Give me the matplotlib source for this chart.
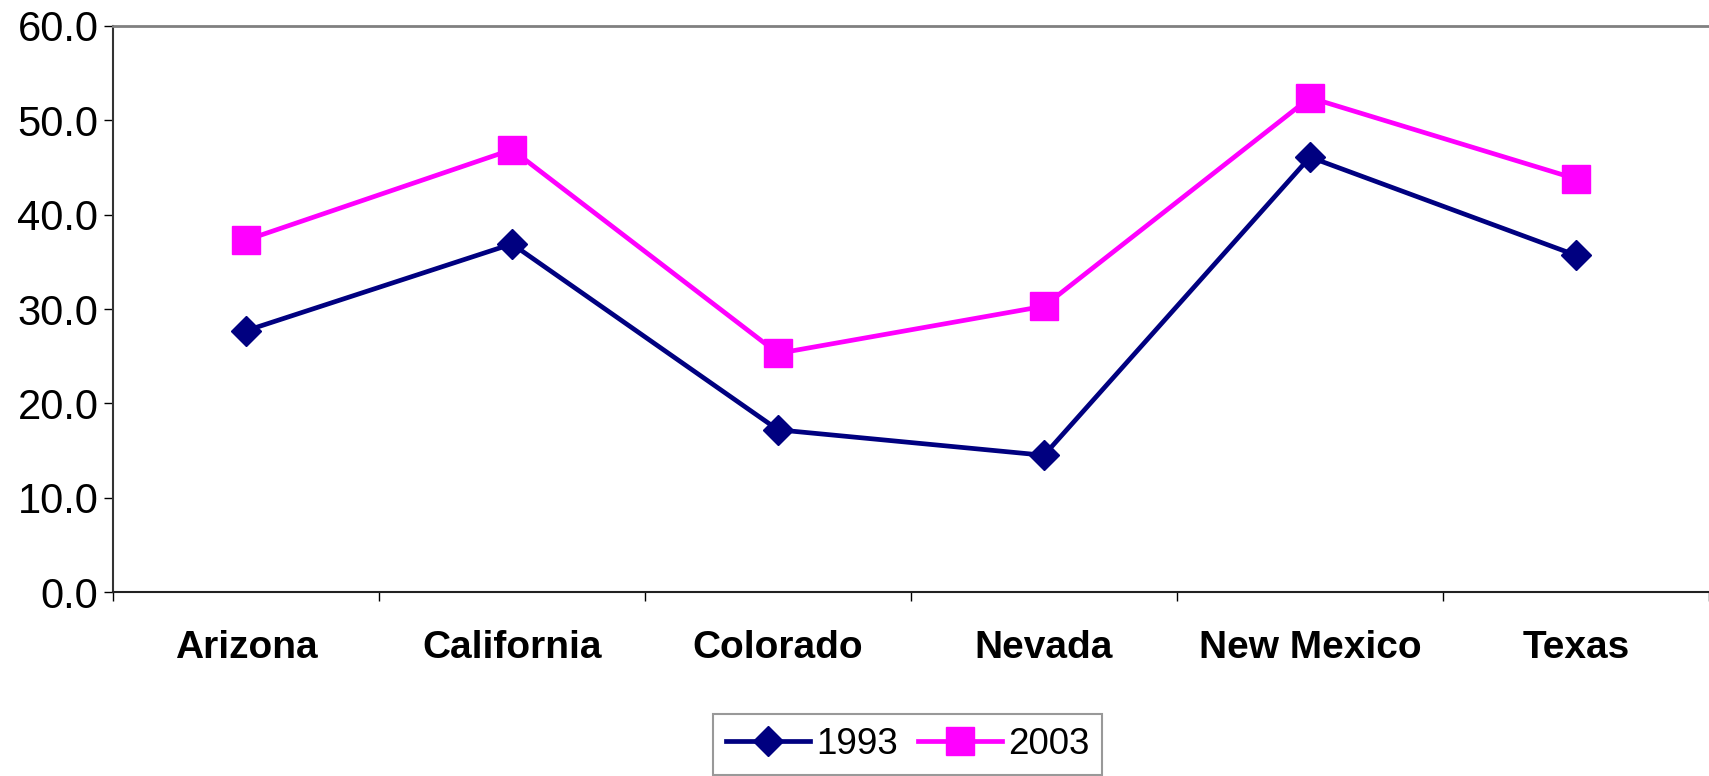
import numpy as np
import matplotlib.pyplot as plt
from matplotlib.ticker import FormatStrFormatter

states = ['Arizona', 'California', 'Colorado', 'Nevada', 'New Mexico', 'Texas']
y1993 = [27.7, 36.9, 17.2, 14.5, 46.1, 35.7]
y2003 = [37.3, 46.9, 25.3, 30.3, 52.4, 43.8]

plt.rcParams['font.family'] = ['Liberation Sans', 'DejaVu Sans']

fig = plt.figure(figsize=(17.09, 7.76), dpi=100)
ax = fig.add_axes([0.0661, 0.237, 0.9339, 0.7295])

x = np.arange(len(states)) + 0.5
ax.plot(x, y1993, color='#000080', lw=3.4, marker='D', ms=15.5,
        mec='#000080', mew=1, label='1993')
ax.plot(x, y2003, color='#FF00FF', lw=3.4, marker='s', ms=19.5,
        mec='#FF00FF', mew=1, label='2003')

ax.set_xlim(0, len(states))
ax.set_ylim(0, 60)
ax.set_yticks(np.arange(0, 61, 10))
ax.yaxis.set_major_formatter(FormatStrFormatter('%.1f'))
ax.tick_params(axis='y', labelsize=30, direction='out', length=6.5, width=1, pad=4)

# category boundaries get the tick marks, labels sit in between
ax.set_xticks(np.arange(0, len(states) + 1))
ax.set_xticklabels([])
ax.set_xticks(x, minor=True)
ax.set_xticklabels(states, minor=True, fontsize=28, fontweight='bold')
ax.tick_params(axis='x', which='major', direction='out', length=6.5, width=1)
ax.tick_params(axis='x', which='minor', length=0, pad=27.5)

ax.spines['right'].set_visible(False)
ax.spines['top'].set_color('#808080')
ax.spines['top'].set_linewidth(2)
ax.spines['left'].set_color('#333333')
ax.spines['bottom'].set_color('#222222')
ax.spines['left'].set_linewidth(1.5)
ax.spines['bottom'].set_linewidth(1.5)

leg = fig.legend(loc='upper center', bbox_to_anchor=(0.531, 0.08), ncol=2,
                 fontsize=26.5, frameon=True, fancybox=False, edgecolor='#808080',
                 handlelength=2.3, handletextpad=0.15, columnspacing=0.55,
                 borderpad=0.35, borderaxespad=0)
leg.get_frame().set_linewidth(1.5)

fig.savefig('out.png', dpi=100)
